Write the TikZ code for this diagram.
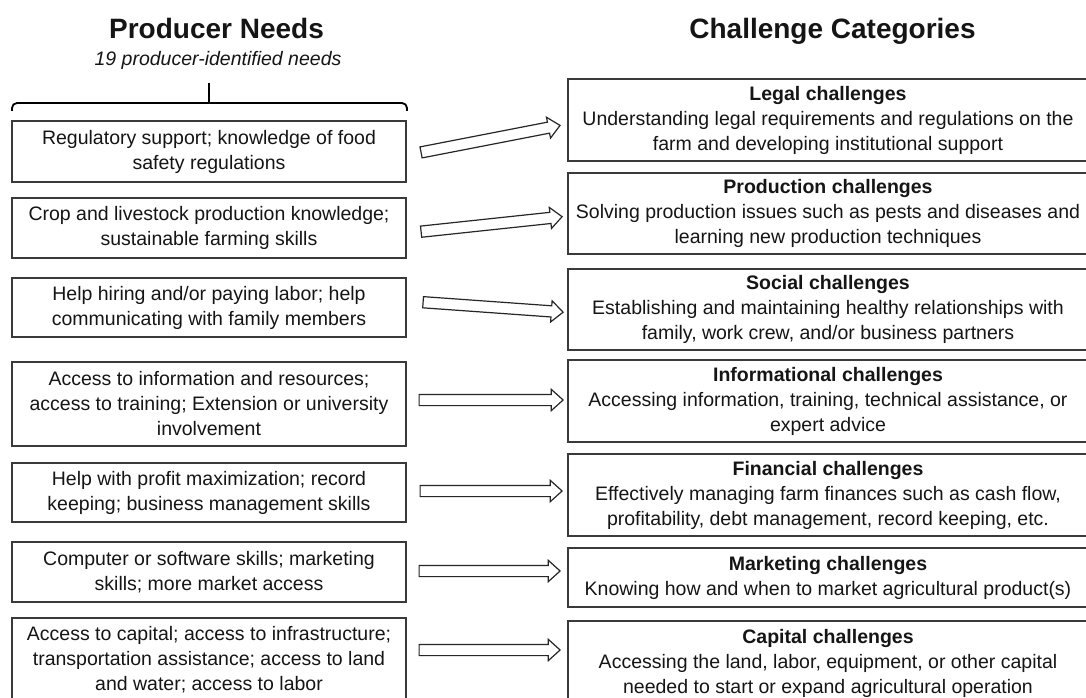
\documentclass[tikz,border=0pt]{standalone}
\usepackage{fontspec}
\setmainfont{Liberation Sans}
\usetikzlibrary{shapes.arrows,calc}
\definecolor{ln}{HTML}{3A3A3A}
\definecolor{tx}{HTML}{151515}
\tikzset{
  lbox/.style={draw=ln, line width=1.1pt, minimum width=394pt, inner sep=0pt,
    align=center, text=tx, font=\fontsize{19.5}{25}\selectfont},
  rbox/.style={lbox, minimum width=520pt},
  barrow/.style={single arrow, draw=black!85, line width=1.2pt, fill=white,
    minimum width=20pt, single arrow head extend=5pt, single arrow head indent=0pt,
    inner sep=5pt, single arrow tip angle=84},
  title/.style={font=\fontsize{28}{32}\selectfont\bfseries, text=tx, anchor=base},
  subtitle/.style={font=\fontsize{19.5}{24}\selectfont\itshape, text=tx, anchor=base},
  bracket/.style={draw=black, line width=1.8pt, rounded corners=5pt},
}
\newcommand\blockarrow[3]{%
  \path let \p1=(#1), \p2=(#2),
    \n1={atan2(\y2-\y1,\x2-\x1)}, \n2={veclen(\x2-\x1,\y2-\y1)} in
    node[barrow, rotate=\n1, minimum height=\n2] (#3) at ($(\p1)!0.5!(\p2)$) {};}
\begin{document}
\begin{tikzpicture}[x=1pt,y=-1pt]
\useasboundingbox[fill=white] (0,0) rectangle (1086,698);

% titles
\node[title] (tl) at (216.5,39) {Producer Needs};
\node[subtitle] (st) at (218,66) {19 producer-identified needs};
\node[title] (tr) at (832.5,39) {Challenge Categories};

% bracket
\coordinate (bL) at (12,111);
\coordinate (bR) at (407,111);
\coordinate (bS) at (209,83);
\draw[bracket] (bL) -- (12,103) -- (407,103) -- (bR);
\draw[draw=black, line width=1.8pt] (bS) -- (209,103);

% left boxes
\node[lbox, minimum height=61pt] (L1) at (209,151.5) {Regulatory support; knowledge of food\\safety regulations};
\node[lbox, minimum height=60pt] (L2) at (209,228) {Crop and livestock production knowledge;\\sustainable farming skills};
\node[lbox, minimum height=59pt] (L3) at (209,307.5) {Help hiring and/or paying labor; help\\communicating with family members};
\node[lbox, minimum height=84pt] (L4) at (209,404) {Access to information and resources;\\access to training; Extension or university\\involvement};
\node[lbox, minimum height=59pt] (L5) at (209,492.5) {Help with profit maximization; record\\keeping; business management skills};
\node[lbox, minimum height=60pt] (L6) at (209,572) {Computer or software skills; marketing\\skills; more market access};
\node[lbox, minimum height=84pt] (L7) at (209,660) {Access to capital; access to infrastructure;\\transportation assistance; access to land\\and water; access to labor};

% right boxes
\node[rbox, minimum height=82pt] (R1) at (828,120) {\textbf{Legal challenges}\\Understanding legal requirements and regulations on the\\farm and developing institutional support};
\node[rbox, minimum height=81pt] (R2) at (828,213.5) {\textbf{Production challenges}\\Solving production issues such as pests and diseases and\\learning new production techniques};
\node[rbox, minimum height=81pt] (R3) at (828,309.5) {\textbf{Social challenges}\\Establishing and maintaining healthy relationships with\\family, work crew, and/or business partners};
\node[rbox, minimum height=82pt] (R4) at (828,401) {\textbf{Informational challenges}\\Accessing information, training, technical assistance, or\\expert advice};
\node[rbox, minimum height=82pt] (R5) at (828,495) {\textbf{Financial challenges}\\Effectively managing farm finances such as cash flow,\\profitability, debt management, record keeping, etc.};
\node[rbox, minimum height=59pt] (R6) at (828,577.5) {\textbf{Marketing challenges}\\Knowing how and when to market agricultural product(s)};
\node[rbox, minimum height=84pt] (R7) at (828,663) {\textbf{Capital challenges}\\Accessing the land, labor, equipment, or other capital\\needed to start or expand agricultural operation};

% arrow end points
\coordinate (t1) at (418,153); \coordinate (h1) at (557,126);
\coordinate (t2) at (418,232); \coordinate (h2) at (559,217);
\coordinate (t3) at (420,302); \coordinate (h3) at (560,312);
\coordinate (t4) at (416,400); \coordinate (h4) at (560,400);
\coordinate (t5) at (417,491); \coordinate (h5) at (559,491);
\coordinate (t6) at (416,571); \coordinate (h6) at (557,571);
\coordinate (t7) at (416,650); \coordinate (h7) at (557,650);

\blockarrow{t1}{h1}{A1}
\blockarrow{t2}{h2}{A2}
\blockarrow{t3}{h3}{A3}
\blockarrow{t4}{h4}{A4}
\blockarrow{t5}{h5}{A5}
\blockarrow{t6}{h6}{A6}
\blockarrow{t7}{h7}{A7}
\end{tikzpicture}
\end{document}
